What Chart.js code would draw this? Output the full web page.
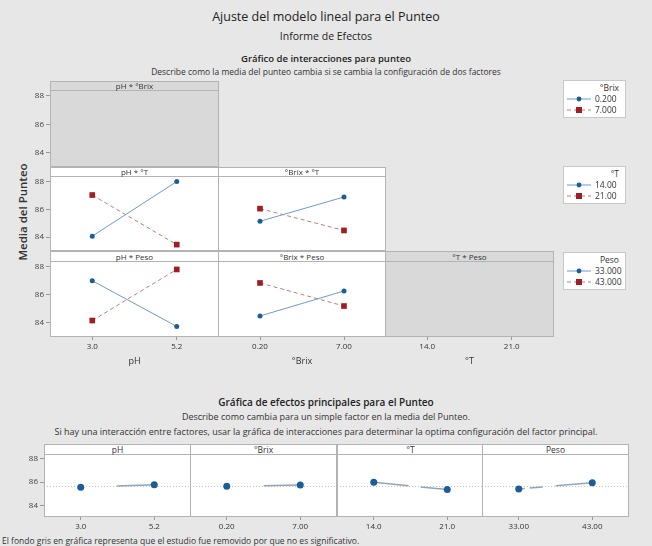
<!DOCTYPE html>
<html>
<head>
<meta charset="utf-8">
<script src="https://cdn.jsdelivr.net/npm/chart.js@4/dist/chart.umd.min.js"></script>
<style>
body { margin: 0; background: #e7e7e7; }
#page { position: relative; width: 652px; height: 546px; overflow: hidden; background: #e7e7e7; font-family: 'Open Sans', 'Noto Sans', sans-serif; color: #222; }
.t { position: absolute; left: 0; width: 652px; text-align: center; white-space: nowrap; }
.strip { position: absolute; box-sizing: border-box; border: 1px solid #b3b3b3; background: #fff; text-align: center; color: #333; white-space: nowrap; }
.strip.off { background: #d9d9d9; }
canvas.p { position: absolute; }
.leg { position: absolute; left: 563px; width: 63px; background: #fff; border: 1px solid #c8c8c8; box-sizing: border-box; font-size: 8.5px; color: #333; }
.leg .lt { text-align: right; padding: 2px 6px 0 0; height: 10px; line-height: 10px; }
.leg .le { height: 11px; line-height: 11px; display: flex; align-items: center; }
.leg svg { margin: 0 3px 0 2px; }
#ytitle { position: absolute; left: 22px; top: 212px; transform: translate(-50%, -50%) rotate(-90deg); font-size: 11.5px; font-weight: 600; color: #333; white-space: nowrap; }
</style>
</head>
<body>
<div id="page">
	<div class="t" style="top:8px;font-size:12.5px;line-height:18px">Ajuste del modelo lineal para el Punteo</div>
	<div class="t" style="top:29px;font-size:10.5px;line-height:14px">Informe de Efectos</div>
	<div class="t" style="top:53px;font-size:9.5px;line-height:12px;font-weight:600">Gráfico de interacciones para punteo</div>
	<div class="t" style="top:66px;font-size:8.5px;line-height:11px;color:#333">Describe como la media del punteo cambia si se cambia la configuración de dos factores</div>
	<div id="ytitle">Media del Punteo</div>

	<div class="t" style="top:396px;font-size:10px;line-height:13px;font-weight:600">Gráfica de efectos principales para el Punteo</div>
	<div class="t" style="top:411px;font-size:9px;line-height:11px;color:#333">Describe como cambia para un simple factor en la media del Punteo.</div>
	<div class="t" style="top:426px;font-size:9px;line-height:11px;color:#333">Si hay una interacción entre factores, usar la gráfica de interacciones para determinar la optima configuración del factor principal.</div>
	<div class="t" style="top:535px;left:2px;text-align:left;font-size:8.5px;line-height:11px;color:#333">El fondo gris en gráfica representa que el estudio fue removido por que no es significativo.</div>
</div>

<script>
// factor levels
const phLevels = ['3.0', '5.2'];
const brixLevels = ['0.20', '7.00'];
const tLevels = ['14.0', '21.0'];
const pesoLevels = ['33.00', '43.00'];

// interaction means (blue = low level of 2nd factor, red = high level)
const phT_14 = [84.07, 88.00];
const phT_21 = [87.03, 83.46];
const brixT_14 = [85.14, 86.89];
const brixT_21 = [86.05, 84.48];
const phPeso_33 = [87.00, 83.75];
const phPeso_43 = [84.17, 87.80];
const brixPeso_33 = [84.49, 86.27];
const brixPeso_43 = [86.84, 85.20];

// main effects
const mainPh = [85.55, 85.77];
const mainBrix = [85.63, 85.74];
const mainT = [85.97, 85.35];
const mainPeso = [85.40, 85.94];
const grandMean = 85.66;

// legend entries
const brixLegend = ['0.200', '7.000'];
const tLegend = ['14.00', '21.00'];
const pesoLegend = ['33.000', '43.000'];

const yMin = 83.0, yMax = 88.4;
const BLUE = '#1c5d99', BLUE_LINE = '#6d9cc6';
const RED = '#a11d21', RED_LINE = '#c47b7b';

Chart.defaults.font.family = "'Open Sans', sans-serif";

const page = document.getElementById('page');

// white/grey plot background, box and optional grand mean line
const panelBox = {
	id: 'panelBox',
	beforeDatasetsDraw(chart, args, opts) {
		const { ctx, chartArea: a } = chart;
		ctx.save();
		ctx.fillStyle = opts.fill;
		ctx.fillRect(a.left, a.top, a.width, a.height);
		if (opts.mean != null) {
			const y = Math.round(chart.scales.y.getPixelForValue(opts.mean)) + 0.5;
			ctx.strokeStyle = '#c4c4c4';
			ctx.setLineDash([1, 2]);
			ctx.beginPath();
			ctx.moveTo(a.left, y);
			ctx.lineTo(a.right, y);
			ctx.stroke();
			ctx.setLineDash([]);
		}
		ctx.strokeStyle = '#b3b3b3';
		ctx.lineWidth = 1;
		ctx.strokeRect(a.left + 0.5, a.top + 0.5, a.width - 1, a.height - 1);
		ctx.restore();
	}
};

function blueSet(data) {
	return { data: data, borderColor: BLUE_LINE, borderWidth: 1, pointStyle: 'circle', pointRadius: 2.5, pointBackgroundColor: BLUE, pointBorderColor: BLUE, pointBorderWidth: 0 };
}
function redSet(data) {
	return { data: data, borderColor: RED_LINE, borderWidth: 1, borderDash: [4, 3], pointStyle: 'rect', pointRadius: 4, pointBackgroundColor: RED, pointBorderColor: RED, pointBorderWidth: 0 };
}
function mainSet(data, dash) {
	return { data: data, borderColor: '#8fa6b8', borderWidth: 1.5, borderDash: dash, pointStyle: 'circle', pointRadius: 3.5, pointBackgroundColor: BLUE, pointBorderColor: BLUE, pointBorderWidth: 0 };
}

function strip(x, y, w, h, text, size, off) {
	const d = document.createElement('div');
	d.className = 'strip' + (off ? ' off' : '');
	d.style.left = x + 'px';
	d.style.top = y + 'px';
	d.style.width = (w + 1) + 'px';
	d.style.height = (h + 1) + 'px';
	d.style.fontSize = size + 'px';
	d.style.lineHeight = (h - 1) + 'px';
	d.textContent = text;
	page.appendChild(d);
}

// axes keep a fixed size and no label overflow padding, so the plot area sits exactly in the panel
function fixAxis(s, size, vertical) {
	if (vertical) s.width = size; else s.height = size;
	s.paddingTop = 0; s.paddingBottom = 0; s.paddingLeft = 0; s.paddingRight = 0;
}

function makePanel(o) {
	const cv = document.createElement('canvas');
	cv.className = 'p';
	cv.width = o.w + 1 + o.left;
	cv.height = o.h + o.bottom;
	cv.style.left = (o.x - o.left) + 'px';
	cv.style.top = o.y + 'px';
	page.appendChild(cv);

	new Chart(cv, {
		type: 'line',
		data: { labels: o.labels, datasets: o.datasets || [] },
		options: {
			responsive: false,
			animation: false,
			events: [],
			layout: { padding: 0, autoPadding: false },
			plugins: {
				legend: { display: false },
				tooltip: { enabled: false },
				panelBox: { fill: o.fill || '#ffffff', mean: o.mean }
			},
			scales: {
				x: {
					offset: true,
					border: { display: false },
					grid: { display: o.bottom > 0, drawOnChartArea: false, tickLength: 3, color: '#9a9a9a' },
					ticks: { color: '#333', font: { size: 8 }, padding: 2, maxRotation: 0 },
					title: { display: !!o.xTitle, text: o.xTitle || '', color: '#333', font: { size: 9 }, padding: { top: 1, bottom: 0 } },
					afterFit: (s) => fixAxis(s, o.bottom, false)
				},
				y: {
					min: yMin,
					max: yMax,
					border: { display: false },
					grid: { display: o.left > 0, drawOnChartArea: false, tickLength: 4, color: '#9a9a9a' },
					ticks: { stepSize: 2, includeBounds: false, color: '#444', font: { size: 8 }, padding: 2 },
					afterFit: (s) => fixAxis(s, o.left, true)
				}
			}
		},
		plugins: [panelBox]
	});

	strip(o.x, o.stripTop, o.w, o.y - o.stripTop, o.strip, o.stripSize, o.fill && o.fill !== '#ffffff');
}

// interaction grid
const cols = [{ x: 50, w: 168 }, { x: 218, w: 167 }, { x: 385, w: 168 }];
const rows = [{ s: 81, y: 90, h: 77 }, { s: 167, y: 176, h: 75 }, { s: 251, y: 261, h: 76 }];
const GREY = '#d9d9d9';

function cell(r, c, extra) {
	return Object.assign({
		x: cols[c].x, w: cols[c].w, y: rows[r].y, h: rows[r].h, stripTop: rows[r].s, stripSize: 8,
		left: c === 0 ? 50 : 0, bottom: r === 2 ? 30 : 0
	}, extra);
}

makePanel(cell(0, 0, { labels: phLevels, strip: 'pH * °Brix', fill: GREY }));
makePanel(cell(1, 0, { labels: phLevels, strip: 'pH * °T', datasets: [blueSet(phT_14), redSet(phT_21)] }));
makePanel(cell(1, 1, { labels: brixLevels, strip: '°Brix * °T', datasets: [blueSet(brixT_14), redSet(brixT_21)] }));
makePanel(cell(2, 0, { labels: phLevels, strip: 'pH * Peso', xTitle: 'pH', datasets: [blueSet(phPeso_33), redSet(phPeso_43)] }));
makePanel(cell(2, 1, { labels: brixLevels, strip: '°Brix * Peso', xTitle: '°Brix', datasets: [blueSet(brixPeso_33), redSet(brixPeso_43)] }));
makePanel(cell(2, 2, { labels: tLevels, strip: '°T * Peso', xTitle: '°T', fill: GREY }));

// main effects row
const mcols = [44, 190, 337, 482];
const mains = [
	{ labels: phLevels, data: mainPh, name: 'pH', dash: [0, 36, 40, 0] },
	{ labels: brixLevels, data: mainBrix, name: '°Brix', dash: [0, 37, 40, 0] },
	{ labels: tLevels, data: mainT, name: '°T', dash: [35, 12, 30, 0] },
	{ labels: pesoLevels, data: mainPeso, name: 'Peso', dash: [6, 5, 13, 13, 40, 0] }
];
mains.forEach((m, i) => {
	makePanel({
		x: mcols[i], w: 146, y: 454, h: 63, stripTop: 444, stripSize: 8.5,
		left: i === 0 ? 44 : 0, bottom: 18,
		labels: m.labels, strip: m.name, mean: grandMean,
		datasets: [mainSet(m.data, m.dash)]
	});
});

// legends
function legend(top, title, items) {
	const box = document.createElement('div');
	box.className = 'leg';
	box.style.top = top + 'px';
	box.style.height = '38px';
	let html = '<div class="lt">' + title + '</div>';
	html += '<div class="le"><svg width="26" height="8"><line x1="1" y1="4" x2="25" y2="4" stroke="' + BLUE_LINE + '" stroke-width="1"/><circle cx="13" cy="4" r="2.4" fill="' + BLUE + '"/></svg><span>' + items[0] + '</span></div>';
	html += '<div class="le"><svg width="26" height="8"><line x1="1" y1="4" x2="25" y2="4" stroke="' + RED_LINE + '" stroke-width="1" stroke-dasharray="4 3"/><rect x="10" y="1" width="6" height="6" fill="' + RED + '"/></svg><span>' + items[1] + '</span></div>';
	box.innerHTML = html;
	page.appendChild(box);
}
legend(80, '°Brix', brixLegend);
legend(166, '°T', tLegend);
legend(252, 'Peso', pesoLegend);
</script>
</body>
</html>
